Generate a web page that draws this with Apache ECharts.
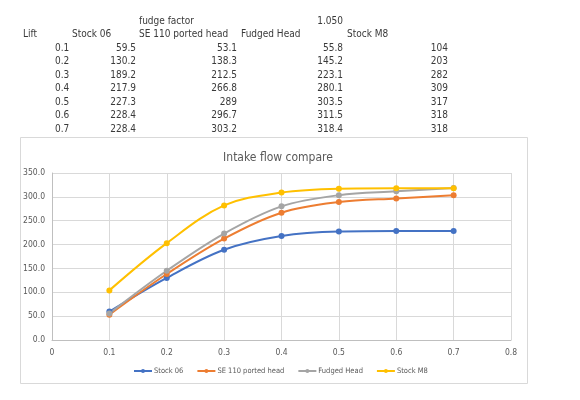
<!DOCTYPE html>
<html><head><meta charset="utf-8">
<script src="https://cdn.jsdelivr.net/npm/echarts@6/dist/echarts.min.js"></script>
<style>html,body{margin:0;padding:0;background:#fff}#c{width:580px;height:400px}</style>
</head><body><div id="c"></div>
<script>
var lift = [0.1, 0.2, 0.3, 0.4, 0.5, 0.6, 0.7];
var liftLabels = ['0.1','0.2','0.3','0.4','0.5','0.6','0.7'];
var stock06 = [59.5, 130.2, 189.2, 217.9, 227.3, 228.4, 228.4];
var se110 = [53.1, 138.3, 212.5, 266.8, 289, 296.7, 303.2];
var fudged = [55.8, 145.2, 223.1, 280.1, 303.5, 311.5, 318.4];
var stockM8 = [104, 203, 282, 309, 317, 318, 318];
var seriesNames = ['Stock 06', 'SE 110 ported head', 'Fudged Head', 'Stock M8'];
var fudgeFactorLabel = 'fudge factor';
var fudgeFactorValue = '1.050';
var colors = ['#4472C4', '#ED7D31', '#A5A5A5', '#FFC000'];

var FF = '"Liberation Sans Narrow", "DejaVu Sans Condensed", sans-serif';
var tcol = '#3a3a3a';
var fs = 10;
var graphics = [];
function txt(x, y, s, align) {
  graphics.push({type:'text', x:x, y:y, style:{text:s, x:0, y:0, fill:tcol, font: fs+'px '+FF, textAlign:align||'left', textVerticalAlign:'middle'}});
}
txt(139, 21, fudgeFactorLabel);
txt(343, 21, fudgeFactorValue, 'right');
txt(23, 34, 'Lift');
txt(72, 34, seriesNames[0]);
txt(139, 34, seriesNames[1]);
txt(241, 34, seriesNames[2]);
txt(347, 34, seriesNames[3]);
for (var i = 0; i < lift.length; i++) {
  var y = 48.3 + i * 13.5;
  txt(55, y, liftLabels[i]);
  txt(136, y, String(stock06[i]), 'right');
  txt(237, y, String(se110[i]), 'right');
  txt(343, y, String(fudged[i]), 'right');
  txt(448, y, String(stockM8[i]), 'right');
}
graphics.push({type:'rect', shape:{x:20.5, y:137.5, width:507, height:246}, style:{fill:'none', stroke:'#d9d9d9', lineWidth:1}, z:-1});

var datasets = [stock06, se110, fudged, stockM8];
var series = datasets.map(function(d, k){
  return {
    name: seriesNames[k], type:'line', smooth:0.35,
    data: lift.map(function(x, i){ return [x, d[i]]; }),
    symbol:'circle', symbolSize:6,
    lineStyle:{width:2, color:colors[k]},
    itemStyle:{color:colors[k]},
    z: 2
  };
});

var chart = echarts.init(document.getElementById('c'), null, {renderer:'canvas'});
chart.setOption({
  animation:false,
  backgroundColor:'#fff',
  color: colors,
  title:{text:'Intake flow compare', left:273, top:147, textAlign:'center',
    textStyle:{fontFamily:FF, fontSize:12, fontWeight:'normal', color:'#595959'}},
  legend:{top:362, left:128, itemWidth:18, itemHeight:5, itemGap:13,
    textStyle:{fontFamily:FF, fontSize:7.5, color:'#595959', padding:[0,0,0,-3]}, data:seriesNames},
  grid:{left:52, right:69, top:173, bottom:60},
  xAxis:{type:'value', min:0, max:0.8, interval:0.1,
    axisLine:{show:true, lineStyle:{color:'#bfbfbf'}}, axisTick:{show:false},
    axisLabel:{fontFamily:FF, fontSize:8.5, color:'#595959', margin:8,
      formatter:function(v){ return v===0?'0':String(Math.round(v*10)/10); }},
    splitLine:{show:true, lineStyle:{color:'#d9d9d9'}}},
  yAxis:{type:'value', min:0, max:350, interval:50,
    axisLine:{show:true, lineStyle:{color:'#bfbfbf'}}, axisTick:{show:false},
    axisLabel:{fontFamily:FF, fontSize:8.5, color:'#595959', margin:7,
      formatter:function(v){ return v.toFixed(1); }},
    splitLine:{show:true, lineStyle:{color:'#d9d9d9'}}},
  graphic: graphics,
  series: series
});
</script></body></html>
